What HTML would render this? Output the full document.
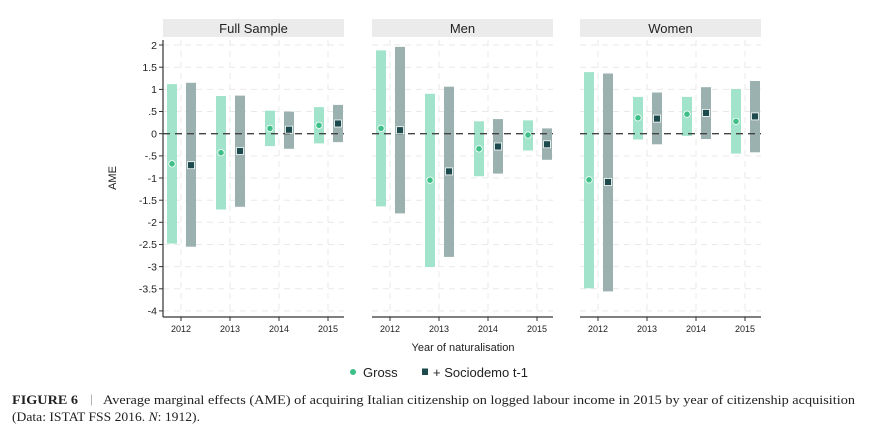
<!DOCTYPE html>
<html><head><meta charset="utf-8"><style>
body{margin:0;background:#fff}
svg{display:block}
text{font-family:"Liberation Sans",sans-serif;fill:#222}
.g{stroke:#e9e9e9;stroke-width:1;stroke-dasharray:6,5}
.gb{fill:#a2e4cb}
.sb{fill:#9bb1b0}
.gp{fill:#3dbf87;stroke:#fff;stroke-width:0.8}
.sp{fill:#1d4a4c;stroke:#fff;stroke-width:0.8}
.yl{font-size:10.5px;text-anchor:end}
.xl{font-size:9px;text-anchor:middle}
.st{font-size:13px;text-anchor:middle}
.z{stroke:#444;stroke-width:1.3;stroke-dasharray:7,5}
.cap{font-family:"Liberation Serif",serif;font-size:13px;fill:#222}
</style></head><body>
<svg width="883" height="432" viewBox="0 0 883 432" xmlns="http://www.w3.org/2000/svg">
<defs>
<g id="grid">
<line class="g" x1="0" x2="181" y1="45" y2="45"/><line class="g" x1="0" x2="181" y1="67.2" y2="67.2"/>
<line class="g" x1="0" x2="181" y1="89.4" y2="89.4"/><line class="g" x1="0" x2="181" y1="111.5" y2="111.5"/>
<line class="g" x1="0" x2="181" y1="155.9" y2="155.9"/>
<line class="g" x1="0" x2="181" y1="178" y2="178"/><line class="g" x1="0" x2="181" y1="200.2" y2="200.2"/>
<line class="g" x1="0" x2="181" y1="222.3" y2="222.3"/><line class="g" x1="0" x2="181" y1="244.5" y2="244.5"/>
<line class="g" x1="0" x2="181" y1="266.6" y2="266.6"/><line class="g" x1="0" x2="181" y1="288.8" y2="288.8"/>
<line class="g" x1="0" x2="181" y1="310.9" y2="310.9"/>
<line class="g" x1="18" x2="18" y1="40" y2="317"/><line class="g" x1="67" x2="67" y1="40" y2="317"/>
<line class="g" x1="116" x2="116" y1="40" y2="317"/><line class="g" x1="165" x2="165" y1="40" y2="317"/>
<rect x="0" y="19" width="181" height="18" fill="#ebebeb"/>
<line x1="0" x2="181" y1="317" y2="317" stroke="#333" stroke-width="1.2"/>
<line x1="18" x2="18" y1="317" y2="321" stroke="#333"/><line x1="67" x2="67" y1="317" y2="321" stroke="#333"/>
<line x1="116" x2="116" y1="317" y2="321" stroke="#333"/><line x1="165" x2="165" y1="317" y2="321" stroke="#333"/>
<text class="xl" x="18" y="332">2012</text><text class="xl" x="67" y="332">2013</text>
<text class="xl" x="116" y="332">2014</text><text class="xl" x="165" y="332">2015</text>
</g>
</defs>

<g transform="translate(163,0)">
<use href="#grid"/>
<text class="st" x="90.5" y="33">Full Sample</text>
<rect class="gb" x="4" y="84.1" width="10" height="159.5"/><rect class="sb" x="23" y="82.8" width="10" height="163.9"/>
<rect class="gb" x="53" y="96" width="10" height="113.5"/><rect class="sb" x="72" y="95.6" width="10" height="111.2"/>
<rect class="gb" x="102" y="110.7" width="10" height="35.4"/><rect class="sb" x="121" y="111.6" width="10" height="37.2"/>
<rect class="gb" x="151" y="107.1" width="10" height="36.3"/><rect class="sb" x="170" y="104.9" width="10" height="37.2"/>
<line class="z" x1="0" x2="181" y1="133.7" y2="133.7"/>
<circle class="gp" cx="9" cy="163.8" r="3.2"/><rect class="sp" x="24.5" y="161.7" width="7" height="7"/>
<circle class="gp" cx="58" cy="152.7" r="3.2"/><rect class="sp" x="73.5" y="147.5" width="7" height="7"/>
<circle class="gp" cx="107" cy="128.4" r="3.2"/><rect class="sp" x="122.5" y="126.2" width="7" height="7"/>
<circle class="gp" cx="156" cy="125.3" r="3.2"/><rect class="sp" x="171.5" y="120" width="7" height="7"/>
</g>
<line x1="163" x2="163" y1="40" y2="317" stroke="#333" stroke-width="1.2"/>
<g stroke="#333"><line x1="159" x2="163" y1="45" y2="45"/><line x1="159" x2="163" y1="67.2" y2="67.2"/><line x1="159" x2="163" y1="89.4" y2="89.4"/><line x1="159" x2="163" y1="111.5" y2="111.5"/><line x1="159" x2="163" y1="133.7" y2="133.7"/><line x1="159" x2="163" y1="155.9" y2="155.9"/><line x1="159" x2="163" y1="178" y2="178"/><line x1="159" x2="163" y1="200.2" y2="200.2"/><line x1="159" x2="163" y1="222.3" y2="222.3"/><line x1="159" x2="163" y1="244.5" y2="244.5"/><line x1="159" x2="163" y1="266.6" y2="266.6"/><line x1="159" x2="163" y1="288.8" y2="288.8"/><line x1="159" x2="163" y1="310.9" y2="310.9"/></g>
<text class="yl" x="157" y="49">2</text><text class="yl" x="157" y="71">1.5</text><text class="yl" x="157" y="93">1</text>
<text class="yl" x="157" y="115">.5</text><text class="yl" x="157" y="137.5">0</text><text class="yl" x="157" y="159.5">-.5</text>
<text class="yl" x="157" y="182">-1</text><text class="yl" x="157" y="204">-1.5</text><text class="yl" x="157" y="226">-2</text>
<text class="yl" x="157" y="248">-2.5</text><text class="yl" x="157" y="270.5">-3</text><text class="yl" x="157" y="292.5">-3.5</text>
<text class="yl" x="157" y="314.5">-4</text>
<text x="116" y="178" font-size="11" text-anchor="middle" transform="rotate(-90 116 178)">AME</text>

<g transform="translate(372,0)">
<use href="#grid"/>
<text class="st" x="90.5" y="33">Men</text>
<rect class="gb" x="4" y="50.4" width="10" height="156"/><rect class="sb" x="23" y="46.9" width="10" height="166.5"/>
<rect class="gb" x="53" y="93.8" width="10" height="173.2"/><rect class="sb" x="72" y="86.7" width="10" height="170.2"/>
<rect class="gb" x="102" y="121.3" width="10" height="54.9"/><rect class="sb" x="121" y="119.1" width="10" height="54.5"/>
<rect class="gb" x="151" y="120.4" width="10" height="30.1"/><rect class="sb" x="170" y="128.4" width="10" height="31.4"/>
<line class="z" x1="0" x2="181" y1="133.7" y2="133.7"/>
<circle class="gp" cx="9" cy="128.4" r="3.2"/><rect class="sp" x="24.5" y="126.7" width="7" height="7"/>
<circle class="gp" cx="58" cy="180.2" r="3.2"/><rect class="sp" x="73.5" y="167.9" width="7" height="7"/>
<circle class="gp" cx="107" cy="148.8" r="3.2"/><rect class="sp" x="122.5" y="143" width="7" height="7"/>
<circle class="gp" cx="156" cy="135" r="3.2"/><rect class="sp" x="171.5" y="140.8" width="7" height="7"/>
</g>

<g transform="translate(580,0)">
<use href="#grid"/>
<text class="st" x="90.5" y="33">Women</text>
<rect class="gb" x="4" y="72.1" width="10" height="216.2"/><rect class="sb" x="23" y="73.5" width="10" height="217.9"/>
<rect class="gb" x="53" y="96.9" width="10" height="42.6"/><rect class="sb" x="72" y="92.5" width="10" height="51.8"/>
<rect class="gb" x="102" y="96.9" width="10" height="39"/><rect class="sb" x="121" y="87.2" width="10" height="51.8"/>
<rect class="gb" x="151" y="89" width="10" height="64.6"/><rect class="sb" x="170" y="81" width="10" height="71.3"/>
<line class="z" x1="0" x2="181" y1="133.7" y2="133.7"/>
<circle class="gp" cx="9" cy="179.8" r="3.2"/><rect class="sp" x="24.5" y="178.5" width="7" height="7"/>
<circle class="gp" cx="58" cy="117.8" r="3.2"/><rect class="sp" x="73.5" y="115.1" width="7" height="7"/>
<circle class="gp" cx="107" cy="114.2" r="3.2"/><rect class="sp" x="122.5" y="109.4" width="7" height="7"/>
<circle class="gp" cx="156" cy="121.3" r="3.2"/><rect class="sp" x="171.5" y="112.9" width="7" height="7"/>
</g>

<text x="463" y="351" font-size="11" text-anchor="middle">Year of naturalisation</text>
<circle cx="353" cy="372" r="3" fill="#3dbf87"/>
<text x="363" y="377" font-size="13">Gross</text>
<rect x="422" y="368.5" width="6" height="6.5" fill="#1d4a4c"/>
<text x="433" y="377" font-size="13">+ Sociodemo t-1</text>

<text class="cap" x="12" y="404" font-weight="bold" textLength="66" lengthAdjust="spacingAndGlyphs">FIGURE 6</text>
<text class="cap" x="90" y="403" fill="#888" style="fill:#888" font-size="11">|</text>
<text class="cap" x="103" y="404" textLength="752" lengthAdjust="spacingAndGlyphs">Average marginal effects (AME) of acquiring Italian citizenship on logged labour income in 2015 by year of citizenship acquisition</text>
<text class="cap" x="12" y="421" textLength="188" lengthAdjust="spacingAndGlyphs">(Data: ISTAT FSS 2016. <tspan font-style="italic">N</tspan>: 1912).</text>
</svg>
</body></html>
